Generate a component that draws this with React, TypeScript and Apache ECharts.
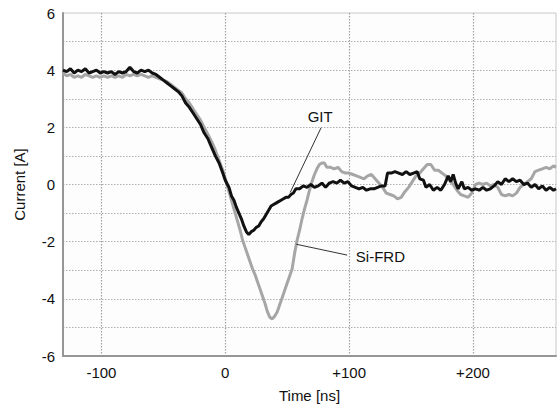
import React, { useEffect, useRef } from "react";
import * as echarts from "echarts";

// Time axis [ns] and current values [A]
const gitTime = [
  -131, -128, -125, -122, -119, -116, -113, -110, -107, -104, -101, -98, -95, -92, -89, -86, -83, -80, -77, -74,
  -71, -68, -65, -62, -59, -56, -53, -50, -47, -44, -41, -38, -35, -32, -29, -26, -23, -20, -17, -14,
  -11, -8, -5, -2, 0, 3, 5, 7, 9, 11, 13, 15, 17, 19, 21, 23, 25, 27, 29, 31,
  33, 35, 37, 39, 41, 43, 45, 47, 49, 51, 53, 55, 57, 60, 63, 66, 69, 72, 75, 78,
  81, 84, 87, 90, 93, 96, 99, 102, 105, 108, 111, 114, 117, 120, 123, 126, 129, 131, 134, 137,
  140, 143, 146, 149, 152, 155, 157, 160, 162, 165, 168, 171, 174, 177, 180, 182, 184, 186, 188, 191,
  193, 196, 199, 202, 205, 208, 211, 214, 217, 220, 223, 226, 229, 232, 235, 238, 241, 244, 247, 250,
  253, 256, 259, 262, 265, 267,
];
const gitCurrent = [
  4.0, 3.95, 4.05, 3.9, 4.0, 3.95, 4.05, 3.9, 3.95, 4.0, 3.9, 3.95, 3.9, 3.95, 3.85, 3.95, 3.9, 3.95, 4.1, 3.95,
  3.9, 4.0, 3.95, 4.0, 3.9, 3.85, 3.75, 3.65, 3.55, 3.45, 3.35, 3.25, 3.1, 2.85, 2.7, 2.5, 2.3, 2.1, 1.8, 1.6,
  1.3, 1.0, 0.75, 0.4, 0.15, -0.1, -0.4, -0.55, -0.8, -1.0, -1.2, -1.45, -1.65, -1.75, -1.65, -1.6, -1.5, -1.45, -1.3, -1.2,
  -1.05, -0.9, -0.75, -0.7, -0.65, -0.6, -0.55, -0.5, -0.45, -0.45, -0.35, -0.3, -0.15, -0.15, -0.05, -0.1, 0.0, -0.1, -0.05, 0.05,
  -0.1, 0.05, 0.1, 0.05, 0.15, 0.05, 0.1, -0.05, -0.1, -0.15, -0.1, -0.2, -0.15, -0.15, -0.1, -0.05, -0.05, 0.4, 0.4, 0.45,
  0.4, 0.35, 0.45, 0.35, 0.4, 0.45, 0.2, 0.15, -0.1, 0.0, -0.2, -0.1, -0.2, 0.0, 0.3, 0.1, 0.35, 0.05, -0.15, 0.1,
  -0.15, -0.1, -0.2, -0.15, -0.2, -0.1, -0.2, -0.15, -0.05, 0.1, 0.0, 0.2, 0.1, 0.2, 0.1, 0.15, 0.0, 0.05, -0.1, 0.0,
  -0.15, -0.05, -0.2, -0.1, -0.2, -0.15,
];

const frdTime = [
  -131, -128, -125, -122, -119, -116, -113, -110, -107, -104, -101, -98, -95, -92, -89, -86, -83, -80, -77, -74,
  -71, -68, -65, -62, -59, -56, -53, -50, -47, -44, -41, -38, -35, -32, -29, -26, -23, -20, -17, -14,
  -11, -8, -5, -2, 0, 2, 4, 6, 8, 10, 12, 14, 16, 18, 20, 22, 24, 26, 28, 30,
  32, 34, 36, 38, 40, 42, 44, 46, 48, 50, 52, 54, 56, 58, 60, 62, 64, 66, 68, 70,
  72, 74, 76, 78, 80, 82, 85, 88, 91, 94, 97, 100, 103, 106, 109, 112, 115, 118, 121, 124,
  127, 130, 133, 136, 139, 142, 145, 148, 151, 154, 157, 160, 163, 166, 169, 172, 175, 178, 181, 184,
  187, 190, 193, 196, 199, 202, 205, 208, 211, 214, 217, 220, 223, 226, 229, 232, 235, 238, 241, 244,
  247, 250, 253, 256, 259, 262, 265, 267,
];
const frdCurrent = [
  3.9, 3.8, 3.85, 3.75, 3.8, 3.75, 3.85, 3.8, 3.75, 3.8, 3.75, 3.8, 3.75, 3.8, 3.75, 3.8, 3.75, 3.85, 3.8, 3.85,
  3.8, 3.85, 3.8, 3.75, 3.8, 3.75, 3.7, 3.65, 3.6, 3.5, 3.4, 3.3, 3.2, 3.0, 2.85, 2.65, 2.45, 2.25, 2.0, 1.75,
  1.5, 1.2, 0.85, 0.5, 0.2, -0.1, -0.4, -0.7, -1.0, -1.3, -1.6, -1.95, -2.2, -2.45, -2.7, -2.95, -3.15, -3.4, -3.65, -3.9,
  -4.15, -4.45, -4.65, -4.7, -4.6, -4.45, -4.2, -3.95, -3.7, -3.45, -3.2, -2.95, -2.4, -1.95, -1.6, -1.2, -0.85, -0.55, -0.2, 0.1,
  0.35, 0.55, 0.7, 0.75, 0.75, 0.6, 0.6, 0.55, 0.6, 0.45, 0.4, 0.4, 0.35, 0.3, 0.25, 0.2, 0.3, 0.35, 0.2, 0.05,
  -0.1, -0.3, -0.35, -0.4, -0.5, -0.45, -0.25, -0.1, 0.1, 0.3, 0.4, 0.55, 0.7, 0.7, 0.5, 0.5, 0.4, 0.3, 0.15, 0.0,
  -0.2, -0.35, -0.4, -0.45, -0.3, 0.0, 0.05, 0.0, 0.05, -0.05, 0.0, -0.1, -0.35, -0.4, -0.35, -0.4, -0.3, -0.1, 0.0, 0.1,
  0.2, 0.45, 0.5, 0.55, 0.6, 0.55, 0.65, 0.6,
];

// Annotation positions in data coordinates [ns, A]
const gitLabelAt = [76.6, 2.37];
const gitLeader = [[77.4, 1.99], [52.4, -0.28]];
const frdLabelAt = [105.0, -2.51];
const frdLeader = [[57.3, -2.09], [98.4, -2.47]];

const X_MIN = -131;
const X_MAX = 267;
const Y_MIN = -6;
const Y_MAX = 6;

const FONT = "'Liberation Sans', Arial, sans-serif";

export default function App() {
  const ref = useRef<HTMLDivElement>(null);
  useEffect(() => {
    if (!ref.current) return;
    const chart = echarts.init(ref.current, undefined, { renderer: "svg" });
    const zip = (xs: number[], ys: number[]) => xs.map((x, i) => [x, ys[i]]);
    chart.setOption({
      animation: false,
      backgroundColor: "#ffffff",
      textStyle: { fontFamily: FONT },
      grid: {
        left: 63,
        top: 13,
        right: 2,
        bottom: 53,
        show: true,
        borderColor: "#c8c8c8",
        borderWidth: 1,
        backgroundColor: "#fdfdfd",
      },
      xAxis: {
        type: "value",
        min: X_MIN,
        max: X_MAX,
        splitNumber: 4,
        name: "Time [ns]",
        nameLocation: "middle",
        nameGap: 32,
        nameTextStyle: { fontSize: 15, color: "#111", fontFamily: FONT, fontWeight: "normal" },
        axisLine: { show: true, onZero: false, lineStyle: { color: "#969696", width: 2 } },
        axisTick: { show: false },
        axisLabel: {
          fontSize: 15,
          color: "#111",
          margin: 9,
          fontFamily: FONT,
          formatter: (v: number) => (v % 100 !== 0 ? "" : v > 0 ? "+" + v : String(v)),
        },
        splitLine: {
          show: true,
          showMinLine: false,
          showMaxLine: false,
          lineStyle: { color: "#a0a0a0", type: [1.5, 1.5], width: 1.2 },
        },
      },
      yAxis: {
        type: "value",
        min: Y_MIN,
        max: Y_MAX,
        interval: 1,
        name: "Current [A]",
        nameLocation: "middle",
        nameGap: 36,
        nameTextStyle: { fontSize: 15, color: "#111", fontFamily: FONT, fontWeight: "normal" },
        axisLine: { show: true, onZero: false, lineStyle: { color: "#969696", width: 2 } },
        axisTick: { show: false },
        axisLabel: {
          fontSize: 15,
          color: "#111",
          margin: 8,
          fontFamily: FONT,
          formatter: (v: number) => (Math.abs(v) % 2 === 0 ? String(v) : ""),
        },
        splitLine: {
          show: true,
          showMinLine: false,
          showMaxLine: false,
          lineStyle: { color: "#b0b0b0", type: [1.5, 1.5], width: 1.2 },
        },
      },
      series: [
        {
          name: "Si-FRD",
          type: "line",
          data: zip(frdTime, frdCurrent),
          showSymbol: false,
          symbol: "none",
          lineStyle: { color: "#a6a6a6", width: 3 },
          z: 2,
          markLine: {
            silent: true,
            symbol: "none",
            label: { show: false },
            lineStyle: { color: "#333", width: 1, type: "solid" },
            data: [[{ coord: frdLeader[0] }, { coord: frdLeader[1] }]],
          },
          markPoint: {
            silent: true,
            symbol: "circle",
            symbolSize: 1,
            itemStyle: { color: "rgba(0,0,0,0)" },
            label: {
              show: true,
              position: "right",
              distance: 0,
              formatter: "Si-FRD",
              color: "#111",
              fontSize: 15,
              fontFamily: FONT,
            },
            data: [{ coord: frdLabelAt }],
          },
        },
        {
          name: "GIT",
          type: "line",
          data: zip(gitTime, gitCurrent),
          showSymbol: false,
          symbol: "none",
          lineStyle: { color: "#111111", width: 3 },
          z: 3,
          markLine: {
            silent: true,
            symbol: "none",
            label: { show: false },
            lineStyle: { color: "#333", width: 1, type: "solid" },
            data: [[{ coord: gitLeader[0] }, { coord: gitLeader[1] }]],
          },
          markPoint: {
            silent: true,
            symbol: "circle",
            symbolSize: 1,
            itemStyle: { color: "rgba(0,0,0,0)" },
            label: {
              show: true,
              position: "inside",
              formatter: "GIT",
              color: "#111",
              fontSize: 15,
              fontFamily: FONT,
            },
            data: [{ coord: gitLabelAt }],
          },
        },
      ],
    });
    return () => chart.dispose();
  }, []);
  return (
    <div
      ref={ref}
      style={{ position: "fixed", left: 0, top: 0, width: 559, height: 409 }}
    />
  );
}
